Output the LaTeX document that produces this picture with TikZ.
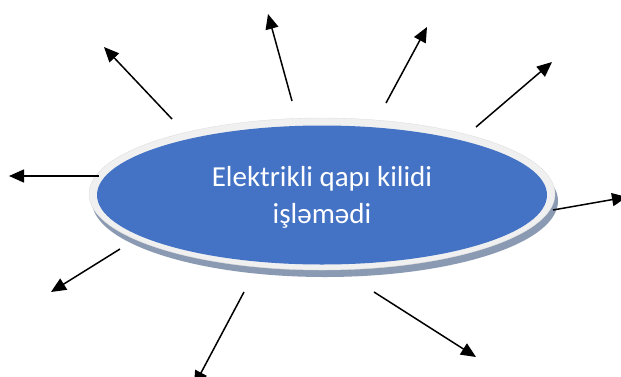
\documentclass[tikz,border=0pt]{standalone}
\usepackage{fontspec}
\setmainfont{Carlito}
\usetikzlibrary{arrows.meta,shapes.geometric}
\definecolor{blueF}{HTML}{4472C4}
\definecolor{ringC}{HTML}{F0F0F0}
\definecolor{shadowC}{HTML}{8A9AB3}
\begin{document}
\begin{tikzpicture}[x=1pt,y=-1pt,
  arr/.style={line width=1.5pt,-{Triangle[length=15pt,width=13pt]}},
  ovl/.style={ellipse,inner sep=0pt,outer sep=0pt}]
\useasboundingbox (0,0) rectangle (621,376);
\clip (0,0) rectangle (621,376);
% shadow
\node[ovl,fill=shadowC,minimum width=466pt,minimum height=152pt] (sh) at (325,201) {};
% ring
\node[ovl,fill=ringC,draw=gray!25,line width=0.4pt,minimum width=466pt,minimum height=152pt] (ring) at (322,194) {};
% blue body
\node[ovl,fill=blueF,minimum width=450pt,minimum height=139pt] (body) at (322,195) {};
\node[text=white,font=\fontsize{29}{37}\selectfont,align=center] (lbl) at (322,197) {Elektrikli qapı kilidi\\işləmədi};
% arrow ends
\coordinate (s1) at (172,119); \coordinate (t1) at (104,47);
\coordinate (s2) at (292,101); \coordinate (t2) at (268,14);
\coordinate (s3) at (386,103); \coordinate (t3) at (427,27);
\coordinate (s4) at (476,127); \coordinate (t4) at (552,62);
\coordinate (s5) at (99,176);  \coordinate (t5) at (9,176);
\coordinate (s6) at (553,210); \coordinate (t6) at (627,197);
\coordinate (s7) at (120,249); \coordinate (t7) at (51,292);
\coordinate (s8) at (244,292); \coordinate (t8) at (194,386);
\coordinate (s9) at (374,292); \coordinate (t9) at (476,357);
\foreach \i in {1,...,9} \draw[arr] (s\i) -- (t\i);
\end{tikzpicture}
\end{document}
